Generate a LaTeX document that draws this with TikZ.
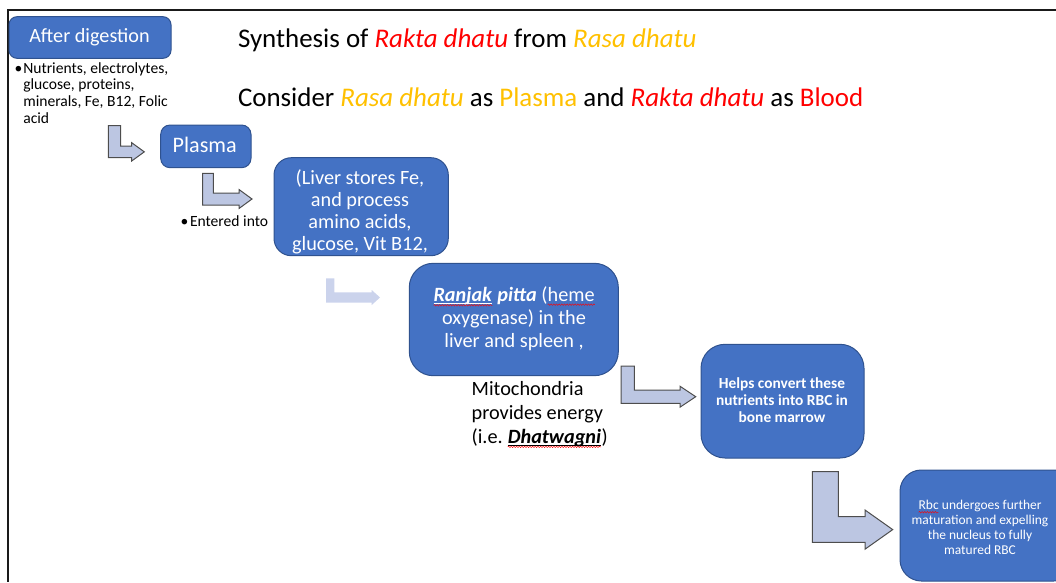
\documentclass[tikz,border=0pt]{standalone}
\usepackage{fontspec}
\setmainfont{Carlito}
\usetikzlibrary{fit,decorations.pathmorphing}
\definecolor{boxblue}{HTML}{4472C4}
\definecolor{boxline}{HTML}{2F528F}
\definecolor{arrfill}{HTML}{BCC6E2}
\definecolor{arrline}{HTML}{4D4D4D}
\definecolor{arrfaint}{HTML}{CBD3EC}
\definecolor{rktred}{HTML}{FF0000}
\definecolor{rsyel}{HTML}{FFC000}
\definecolor{framecol}{HTML}{1A1A1A}
\newcommand{\ctext}[1]{\begin{tabular}[t]{@{}c@{}}#1\end{tabular}}
\newcommand{\ltext}[1]{\begin{tabular}[t]{@{}l@{}}#1\end{tabular}}
\newcommand{\spellmark}[1]{\tikz[baseline=(sqm.base)]{\node[inner sep=0pt,outer sep=0pt](sqm){#1};\draw[rktred,line width=0.3pt,decorate,decoration={snake,amplitude=0.6pt,segment length=2pt}]([yshift=-2.2pt]sqm.base west)--([yshift=-2.2pt]sqm.base east);}}
\newcommand{\ulspellmark}[2]{\tikz[baseline=(sqm.base)]{\node[inner sep=0pt,outer sep=0pt](sqm){#2};\draw[#1,line width=0.6pt]([yshift=-1.3pt]sqm.base west)--([yshift=-1.3pt]sqm.base east);\draw[rktred,line width=0.3pt,decorate,decoration={snake,amplitude=0.6pt,segment length=2pt}]([yshift=-2.7pt]sqm.base west)--([yshift=-2.7pt]sqm.base east);}}
\tikzset{
  bluebox/.style={draw=boxline,fill=boxblue,line width=0.75pt,inner sep=0pt,outer sep=0pt},
  txt/.style={inner sep=0pt,outer sep=0pt},
  wtxt/.style={txt,text=white},
  bentarrow/.style={draw=arrline,fill=arrfill,line width=0.75pt,line join=miter},
  faintarrow/.style={fill=arrfaint},
  framestyle/.style={draw=framecol,line width=1.2pt}
}
\begin{document}
\begin{tikzpicture}[x=0.75pt,y=-0.75pt]
\useasboundingbox (0,0) rectangle (1056,582);
\clip (0,0) rectangle (1056,582);
% frame
\coordinate (fTL) at (8,10);
\coordinate (fTR) at (1056,10);
\coordinate (fBL) at (8,582);
\draw[framestyle] (fTR) -- (fTL) -- (fBL);

% boxes
\node[bluebox,rounded corners=6pt,fit={(9,16.7)(171,58.3)}] (ad) {};
\node[bluebox,rounded corners=7pt,fit={(160.7,125)(251,167.7)}] (pl) {};
\node[bluebox,rounded corners=13pt,fit={(274,157.7)(448.3,255.7)}] (lv) {};
\node[bluebox,rounded corners=18pt,fit={(409.3,263.3)(618.3,375.7)}] (rj) {};
\node[bluebox,rounded corners=18pt,fit={(701,344.3)(864,458)}] (hp) {};
\node[bluebox,rounded corners=16pt,fit={(900,470)(1075,581)}] (rb) {};

% bent arrows
\path[bentarrow] (108.3,125.7) -- (120.7,125.7) -- (120.7,146) -- (131.7,146) -- (131.7,142.7) -- (144.3,151.85) -- (131.7,161) -- (131.7,157.7) -- (108.3,157.7) -- cycle;
\path[bentarrow] (202.7,173.3) -- (213.3,173.3) -- (213.3,193) -- (239,193) -- (239,189.5) -- (252,199) -- (239,208.5) -- (239,205) -- (202.7,205) -- cycle;
\path[faintarrow] (326,278.3) -- (334.3,278.3) -- (334.3,292.3) -- (371.7,292.3) -- (371.7,290) -- (380,297.5) -- (371.7,305) -- (371.7,302.7) -- (326,302.7) -- cycle;
\path[bentarrow] (621,366) -- (634.3,366) -- (634.3,390) -- (680,390) -- (680,386.2) -- (695.7,396.7) -- (680,407.2) -- (680,403.3) -- (621,403.3) -- cycle;
\path[bentarrow] (812.3,471.7) -- (838.3,471.7) -- (838.3,516.7) -- (865,516.7) -- (865,510) -- (892.7,529.6) -- (865,549.2) -- (865,542.3) -- (812.3,542.3) -- cycle;

% titles
\node[txt,font=\fontsize{20.2}{24}\selectfont,anchor=base west] (t1) at (238,47.5) {Synthesis of \textcolor{rktred}{\textit{Rakta dhatu}} from \textcolor{rsyel}{\textit{Rasa dhatu}}};
\node[txt,font=\fontsize{20.2}{24}\selectfont,anchor=base west] (t2) at (238,106.5) {Consider \textcolor{rsyel}{\textit{Rasa dhatu}} as \textcolor{rsyel}{Plasma} and \textcolor{rktred}{\textit{Rakta dhatu}} as \textcolor{rktred}{Blood}};

% box texts
\node[wtxt,font=\fontsize{15.15}{18}\selectfont,anchor=base] (adt) at (89.5,42.7) {After digestion};
\node[wtxt,font=\fontsize{16.6}{20}\selectfont,anchor=base] (plt) at (204.7,152.7) {Plasma};
\node[wtxt,font=\fontsize{15.2}{16.5}\selectfont,anchor=base] (lvt) at (360,184) {\ctext{(Liver stores Fe,\\and process\\amino acids,\\glucose, Vit B12,}};
\node[wtxt,font=\fontsize{15.2}{17.1}\selectfont,anchor=base] (rjt) at (514,301.7) {\ctext{\ulspellmark{white}{\textbf{\textit{Ranjak}}}\textbf{\textit{ pitta}} (\spellmark{heme}\\oxygenase) in the\\liver and spleen ,}};
\node[wtxt,font=\bfseries\fontsize{11.55}{12.9}\selectfont,anchor=base] (hpt) at (782,388.3) {\ctext{Helps convert these\\nutrients into RBC in\\bone marrow}};
\node[wtxt,font=\fontsize{10.1}{11.2}\selectfont,anchor=base] (rbt) at (980,509.3) {\ctext{\spellmark{Rbc} undergoes further\\maturation and expelling\\the nucleus to fully\\matured RBC}};

% free texts
\node[txt,font=\fontsize{11.7}{12.5}\selectfont,anchor=base] (b1) at (18.5,73) {\textbullet};
\node[txt,font=\fontsize{11.7}{12.5}\selectfont,anchor=base west] (nutr) at (23.3,73) {\ltext{Nutrients, electrolytes,\\glucose, proteins,\\minerals, Fe, B12, Folic\\acid}};
\node[txt,font=\fontsize{11.7}{12.5}\selectfont,anchor=base] (b2) at (184.5,226.7) {\textbullet};
\node[txt,font=\fontsize{11.7}{12.5}\selectfont,anchor=base west] (ent) at (190,226.7) {Entered into};
\node[txt,font=\fontsize{15.2}{18.1}\selectfont,anchor=base west] (mito) at (471.7,395) {\ltext{Mitochondria\\provides energy\\(i.e.\ \ulspellmark{black}{\textbf{\textit{Dhatwagni}}})}};
\end{tikzpicture}
\end{document}
